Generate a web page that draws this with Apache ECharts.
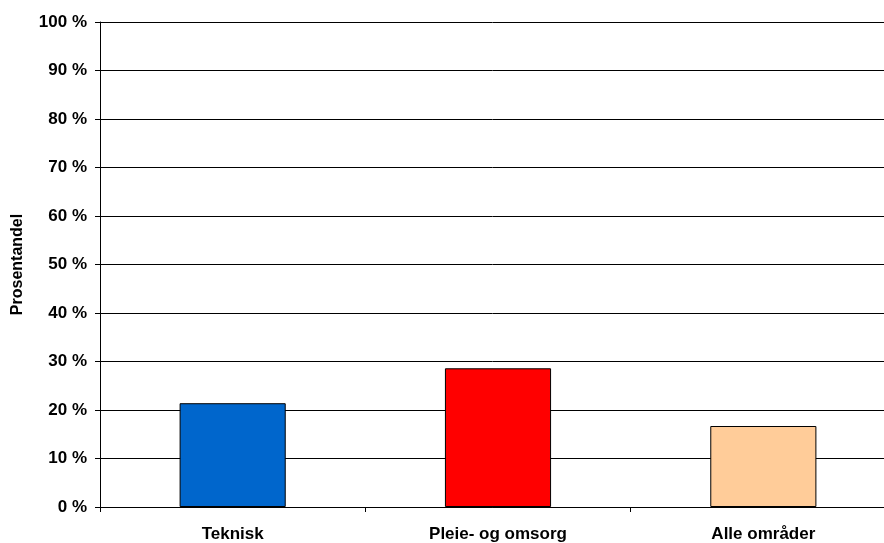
<!DOCTYPE html>
<html>
<head>
<meta charset="utf-8">
<script src="https://cdn.jsdelivr.net/npm/echarts@6/dist/echarts.min.js"></script>
<style>
  html, body { margin: 0; padding: 0; background: #fff; }
  #chart { width: 884px; height: 543px; }
</style>
</head>
<body>
<div id="chart"></div>
<script>
var categories = ['Teknisk', 'Pleie- og omsorg', 'Alle områder'];
var values = [21.4, 28.6, 16.7];
var barColors = ['#0066CC', '#FF0000', '#FFCC99'];
var yTicks = [0, 10, 20, 30, 40, 50, 60, 70, 80, 90, 100];

var chart = echarts.init(document.getElementById('chart'));
var font = '"Liberation Sans", Arial, sans-serif';

var option = {
  animation: false,
  backgroundColor: '#fff',
  grid: {
    left: 100,
    top: 22,
    width: 796,
    height: 485,
    containLabel: false,
    outerBoundsMode: 'none'
  },
  xAxis: {
    type: 'category',
    data: categories,
    axisLine: { show: true, lineStyle: { color: '#000', width: 1 } },
    axisTick: { show: true, length: 5, lineStyle: { color: '#000' } },
    axisLabel: {
      color: '#000', fontFamily: font, fontWeight: 'bold', fontSize: 17, margin: 19
    },
    splitLine: { show: false }
  },
  yAxis: {
    type: 'value',
    min: 0,
    max: 100,
    interval: 10,
    name: 'Prosentandel',
    nameLocation: 'middle',
    nameGap: 74,
    nameMoveOverlap: false,
    nameRotate: 90,
    nameTextStyle: { color: '#000', fontFamily: font, fontWeight: 'bold', fontSize: 16 },
    axisLine: { show: true, lineStyle: { color: '#000', width: 1 } },
    axisTick: { show: true, length: 5, lineStyle: { color: '#000' } },
    axisLabel: {
      color: '#000', fontFamily: font, fontWeight: 'bold', fontSize: 17, margin: 13,
      formatter: function (v) { return yTicks.indexOf(v) >= 0 ? v + ' %' : ''; }
    },
    splitLine: { show: true, lineStyle: { color: '#000', width: 1 } }
  },
  series: [{
    type: 'bar',
    barWidth: '40%',
    data: values.map(function (v, i) {
      return {
        value: v,
        itemStyle: { color: barColors[i], borderColor: '#000', borderWidth: 1 }
      };
    })
  }]
};
chart.setOption(option);
</script>
</body>
</html>
